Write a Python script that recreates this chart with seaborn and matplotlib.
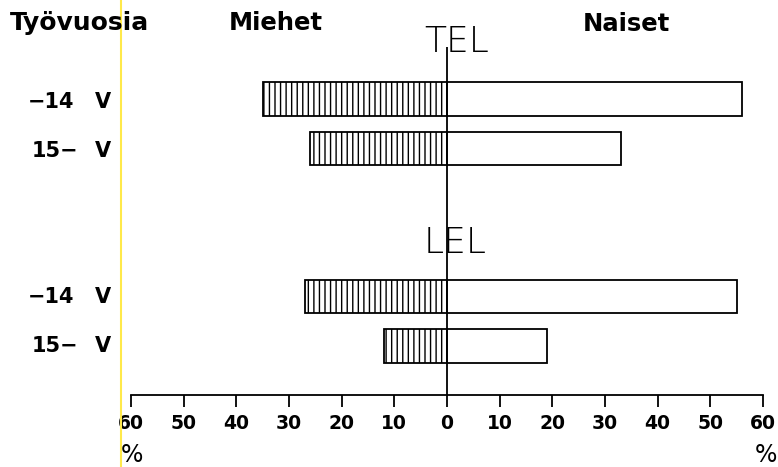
import numpy as np
import pandas as pd
import matplotlib.pyplot as plt
import seaborn as sns
from matplotlib.lines import Line2D

# Values (percent)
groups = ["TEL", "LEL"]
row_labels = ["\u221214", "15\u2212"]
men = [35, 26, 27, 12]
women = [56, 33, 55, 19]
ticks = [-60, -50, -40, -30, -20, -10, 0, 10, 20, 30, 40, 50, 60]

W, H = 778, 467


# pixel -> figure fraction helper for the loose texts
def px(x, y):
    return x / W, 1 - y / H


def build_frame():
    rows = [g + " " + r for g in groups for r in row_labels]
    df = pd.DataFrame({"row": rows * 2,
                       "sex": ["Miehet"] * 4 + ["Naiset"] * 4,
                       "value": [-v for v in men] + women})
    return df, rows


def draw(df, rows):
    sns.set_style("white")
    plt.rcParams["font.family"] = ["DejaVu Sans"]
    plt.rcParams["text.color"] = "black"
    plt.rcParams["xtick.color"] = "black"
    plt.rcParams["axes.edgecolor"] = "black"
    plt.rcParams["hatch.linewidth"] = 1.0

    fig = plt.figure(figsize=(W / 100, H / 100), dpi=100)
    ax = fig.add_axes([0, 0, 1, 1])

    # two empty slots between TEL and LEL
    order = rows[:2] + ["_a", "_b"] + rows[2:]

    sns.barplot(data=df[df["sex"] == "Miehet"], x="value", y="row", order=order,
                orient="h", width=0.67, color="white", saturation=1,
                edgecolor="black", linewidth=1.3, hatch="|||", errorbar=None, ax=ax)
    sns.barplot(data=df[df["sex"] == "Naiset"], x="value", y="row", order=order,
                orient="h", width=0.67, color="white", saturation=1,
                edgecolor="black", linewidth=1.3, errorbar=None, ax=ax)

    ax.set_xlim(-447 / 5.265, 331 / 5.265)
    ax.set_ylim(7.449, -2.004)
    ax.set_xlabel("")
    ax.set_ylabel("")
    ax.set_yticks([])

    for s in ["left", "top", "right"]:
        ax.spines[s].set_visible(False)
    ax.spines["bottom"].set_position(("data", 5.99))
    ax.spines["bottom"].set_bounds(-60, 60)
    ax.spines["bottom"].set_linewidth(1.3)
    ax.set_xticks(ticks)
    ax.set_xticklabels([str(abs(t)) for t in ticks], fontsize=13.5, fontweight="bold")
    ax.tick_params(axis="x", direction="out", length=8.5, width=1.3, pad=5, bottom=True)

    # centre line
    ax.vlines(0, -1.05, 5.99, color="black", linewidth=1.3)

    # headers
    fig.text(*px(10, 30), "Työvuosia", fontsize=18, fontweight="bold")
    fig.text(*px(229, 30), "Miehet", fontsize=17.5, fontweight="bold")
    fig.text(*px(583, 31), "Naiset", fontsize=17.5, fontweight="bold")
    fig.text(*px(424, 52), groups[0], fontsize=26, fontweight="light")
    fig.text(*px(424, 253), groups[1], fontsize=26, fontweight="light")

    # row labels
    for base in [108, 303]:
        fig.text(*px(28, base), row_labels[0], fontsize=15, fontweight="bold")
        fig.text(*px(95, base), "V", fontsize=15, fontweight="bold")
        fig.text(*px(32, base + 49), row_labels[1], fontsize=15, fontweight="bold")
        fig.text(*px(95, base + 49), "V", fontsize=15, fontweight="bold")

    fig.text(*px(132, 462), "%", fontsize=17, ha="center")
    fig.text(*px(766, 462), "%", fontsize=17, ha="center")

    # yellow scan streak
    fig.add_artist(Line2D([121 / W, 121 / W], [0, 1], color="#ffe94a", linewidth=1.5))

    fig.savefig("out.png", dpi=100)


if __name__ == "__main__":
    df, rows = build_frame()
    draw(df, rows)
